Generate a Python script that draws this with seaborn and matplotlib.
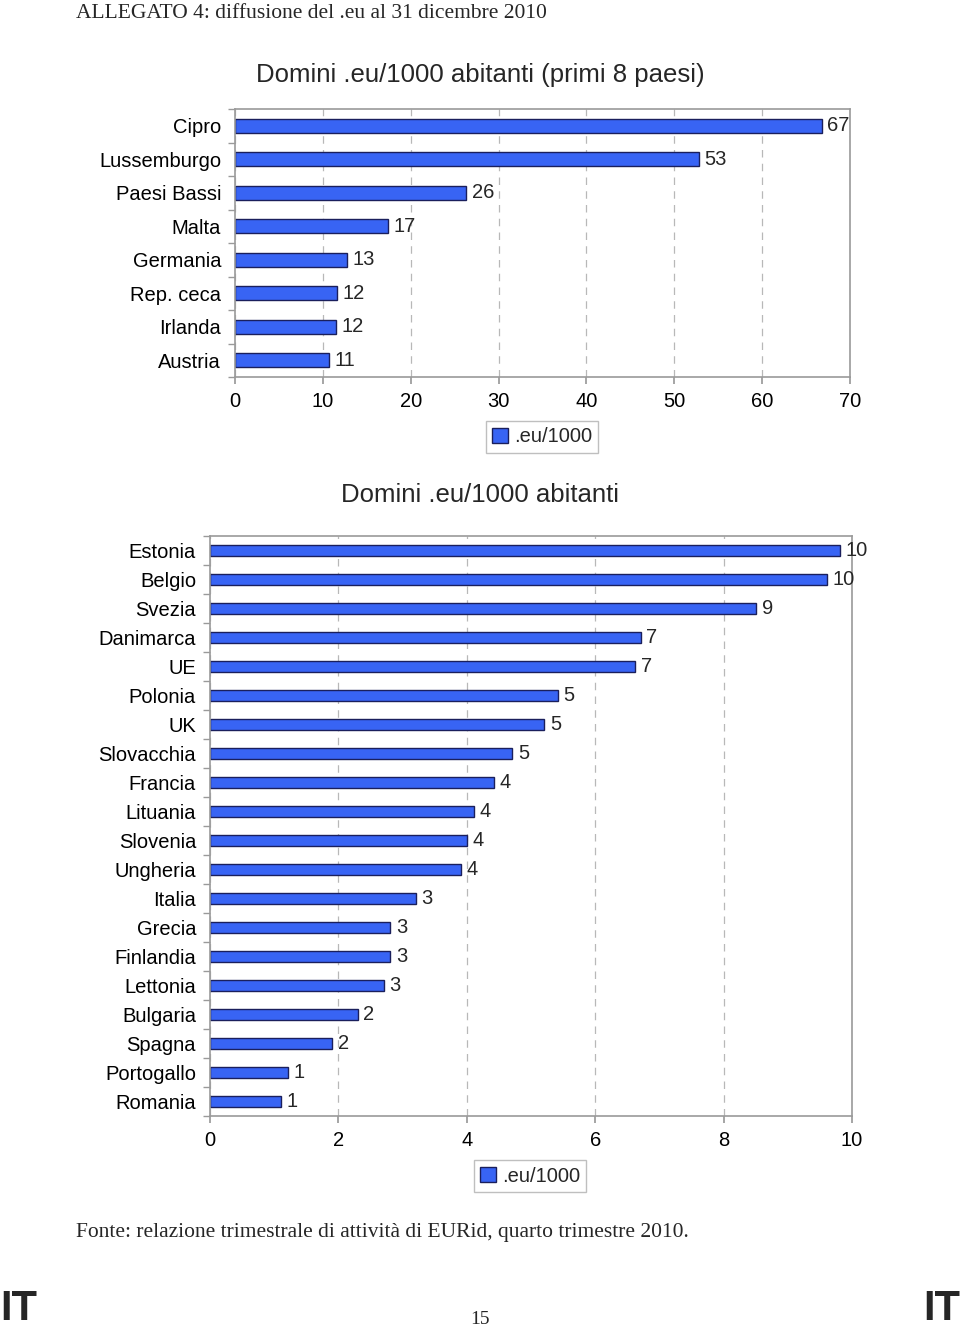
import matplotlib
matplotlib.use("Agg")
import matplotlib.pyplot as plt
import seaborn as sns
import pandas as pd
from matplotlib.patches import Patch
from matplotlib.ticker import FixedLocator

sns.set_theme(style="white")
plt.rcParams['font.family'] = ['Liberation Sans', 'DejaVu Sans']

# ---- data ----
top_countries = ["Cipro", "Lussemburgo", "Paesi Bassi", "Malta", "Germania",
                 "Rep. ceca", "Irlanda", "Austria"]
top_values = [66.8, 52.8, 26.3, 17.4, 12.7, 11.6, 11.5, 10.7]
top_ticks = [0, 10, 20, 30, 40, 50, 60, 70]

bot_countries = ["Estonia", "Belgio", "Svezia", "Danimarca", "UE", "Polonia", "UK",
                 "Slovacchia", "Francia", "Lituania", "Slovenia", "Ungheria", "Italia",
                 "Grecia", "Finlandia", "Lettonia", "Bulgaria", "Spagna", "Portogallo",
                 "Romania"]
bot_values = [9.82, 9.61, 8.51, 6.71, 6.62, 5.42, 5.21, 4.71, 4.42, 4.11, 4.00, 3.91,
              3.21, 2.81, 2.81, 2.71, 2.30, 1.90, 1.21, 1.11]
bot_ticks = [0, 2, 4, 6, 8, 10]

series_name = ".eu/1000"
title_top = "Domini .eu/1000 abitanti (primi 8 paesi)"
title_bot = "Domini .eu/1000 abitanti"
header = "ALLEGATO 4: diffusione del .eu al 31 dicembre 2010"
footer = "Fonte: relazione trimestrale di attività di EURid, quarto trimestre 2010."

BAR = "#3864f4"
EDGE = "#1a1f5c"
GRID = "#b8b8b8"
SPINE = "#9a9a9a"
FS = 14.5

W, H = 960, 1330
fig = plt.figure(figsize=(W / 100, H / 100), dpi=100)


def box(l, t, r, b):
    return [l / W, 1 - b / H, (r - l) / W, (b - t) / H]


def draw(ax, cats, vals, ticks, xmax, width):
    df = pd.DataFrame({"paese": cats, "valore": vals})
    sns.barplot(data=df, y="paese", x="valore", orient="h", color=BAR,
                saturation=1, width=width, edgecolor=EDGE, linewidth=1.0, ax=ax)
    ax.set_xlim(0, xmax)
    ax.set_ylim(len(cats) - 0.5, -0.5)
    ax.set_xticks(ticks)
    ax.xaxis.grid(True, linestyle=(0, (6, 5)), color=GRID, linewidth=0.9)
    ax.yaxis.grid(False)
    ax.set_axisbelow(True)
    for s in ax.spines.values():
        s.set_color(SPINE)
        s.set_linewidth(1.2)
        s.set_visible(True)
    ax.set_xlabel("")
    ax.set_ylabel("")
    ax.tick_params(axis="y", which="major", length=0, pad=10, labelsize=FS,
                   labelcolor="black")
    ax.tick_params(axis="x", which="major", length=5, color=SPINE, direction="out",
                   pad=6, labelsize=FS, labelcolor="black", bottom=True)
    ax.yaxis.set_minor_locator(FixedLocator([i - 0.5 for i in range(len(cats) + 1)]))
    ax.tick_params(axis="y", which="minor", length=5, color=SPINE, left=True)
    ax.bar_label(ax.containers[0], fmt="%.0f", padding=4, fontsize=FS)


ax1 = fig.add_axes(box(235, 109, 850, 377))
draw(ax1, top_countries, top_values, top_ticks, 70, 0.42)

ax2 = fig.add_axes(box(210, 536, 852, 1116))
draw(ax2, bot_countries, bot_values, bot_ticks, 10, 0.40)

handle = [Patch(facecolor=BAR, edgecolor=EDGE, label=series_name)]
for (cx, cy) in [(542, 437), (530, 1176)]:
    leg = fig.legend(handles=handle, loc="center", bbox_to_anchor=(cx / W, 1 - cy / H),
                     fontsize=FS, frameon=True, fancybox=False, handlelength=0.8,
                     handleheight=0.8, handletextpad=0.3, borderpad=0.3,
                     borderaxespad=0)
    leg.get_frame().set_edgecolor("#b0b0b0")
    leg.get_frame().set_linewidth(1.0)

fig.text(480 / W, 1 - 75 / H, title_top, ha="center", va="center", fontsize=18.5)
fig.text(480 / W, 1 - 495 / H, title_bot, ha="center", va="center", fontsize=18.5)

serif = ["Liberation Serif", "DejaVu Serif"]
fig.text(76 / W, 1 - 13 / H, header, ha="left", va="center", fontsize=15.5,
         family=serif)
fig.text(76 / W, 1 - 1233 / H, footer, ha="left", va="center", fontsize=15.5,
         family=serif)
fig.text(480 / W, 1 - 1320 / H, "15", ha="center", va="center", fontsize=14,
         family=serif)
fig.text(0 / W, 1 - 1329 / H, "IT", ha="left", va="bottom", fontsize=30,
         fontweight="bold")
fig.text(960 / W, 1 - 1329 / H, "IT", ha="right", va="bottom", fontsize=30,
         fontweight="bold")

fig.savefig("out.png", dpi=100, facecolor="white")
